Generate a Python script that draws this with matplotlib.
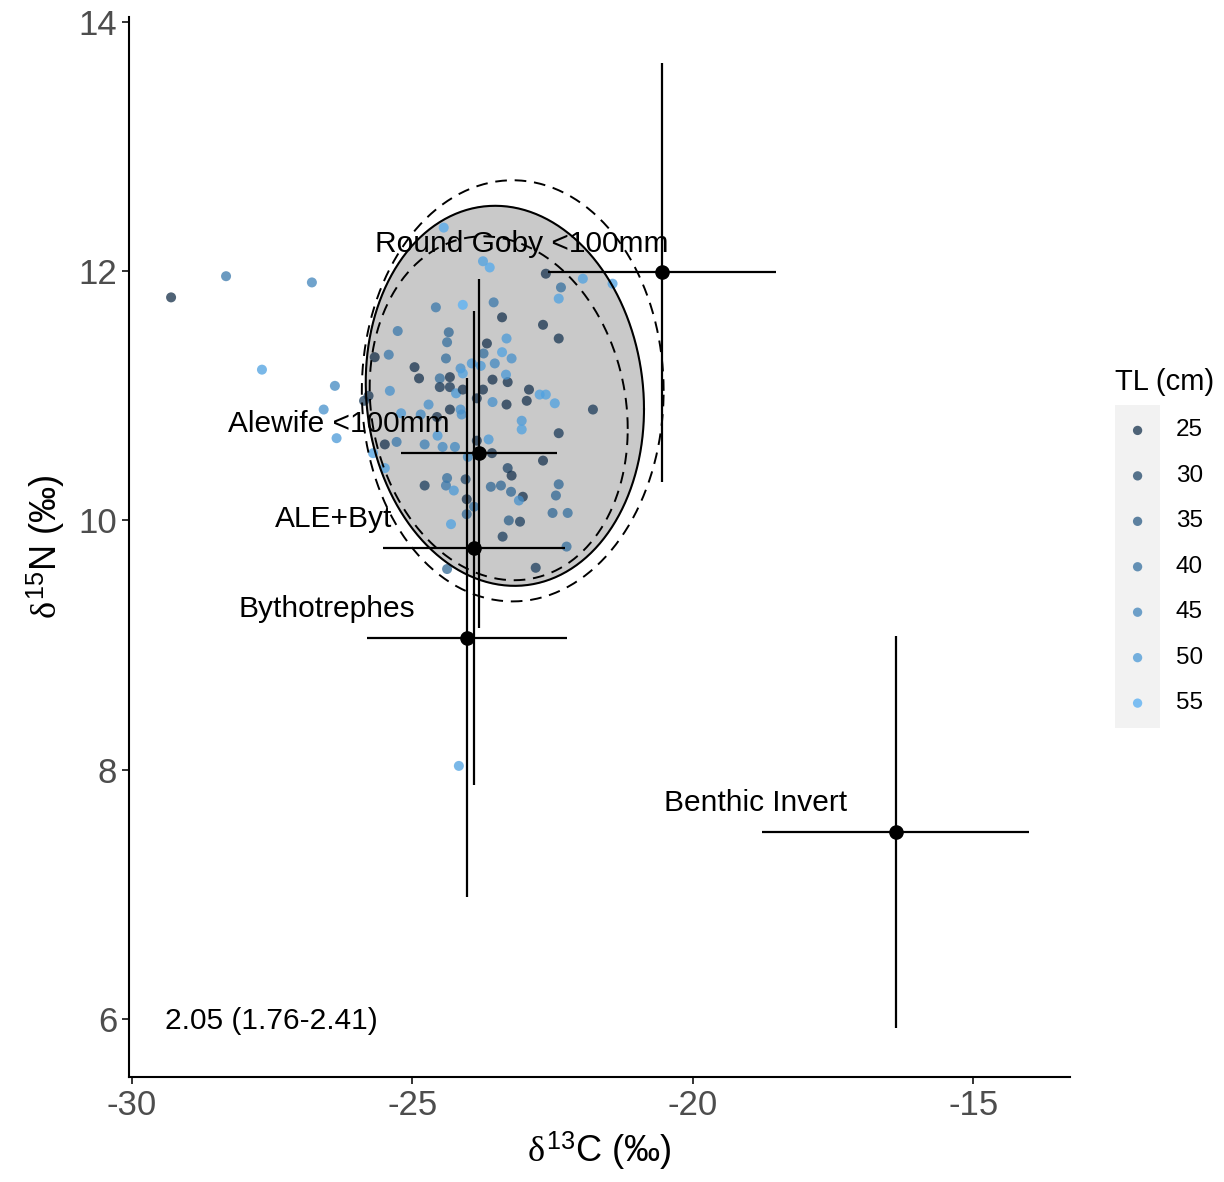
import numpy as np
import matplotlib
matplotlib.use("Agg")
from matplotlib import pyplot as plt
from matplotlib.colors import LinearSegmentedColormap, Normalize

plt.rcParams['font.family'] = ['Liberation Sans', 'DejaVu Sans']
plt.rcParams['mathtext.fontset'] = 'custom'
plt.rcParams['mathtext.rm'] = 'Liberation Sans'
plt.rcParams['mathtext.it'] = 'Liberation Serif'
plt.rcParams['axes.unicode_minus'] = False

# Round goby individuals: d13C, d15N, total length (cm)
d13c = [-29.30, -28.32, -26.79, -27.68, -26.38, -26.58, -26.35, -25.78, -25.86, -25.67,
        -25.42, -25.26, -24.58, -24.96, -24.88, -25.40, -24.71, -25.49, -25.28, -24.78,
        -24.55, -24.46, -25.70, -25.49, -24.44, -23.74, -23.62, -22.62, -22.35, -22.39,
        -21.96, -21.43, -24.10, -23.55, -23.40, -22.67, -22.39, -24.35, -24.38, -23.67,
        -23.32, -23.40, -23.53, -23.23, -23.73, -24.40, -24.51, -24.33, -24.14, -24.10,
        -23.94, -23.78, -23.57, -23.30, -23.33, -23.74, -23.85, -24.51, -24.33, -24.22,
        -24.10, -22.92, -22.96, -22.73, -22.62, -22.46, -23.32, -23.57, -24.33, -24.14,
        -24.12, -25.20, -24.85, -24.56, -21.78, -23.05, -23.05, -22.39, -23.64, -23.85,
        -24.24, -24.01, -23.58, -22.67, -23.30, -23.23, -24.78, -24.38, -24.40, -24.26,
        -24.05, -24.03, -23.90, -24.03, -23.60, -23.42, -23.24, -23.03, -23.10, -22.39,
        -22.44, -22.50, -22.23, -23.28, -23.08, -23.39, -24.31, -22.25, -22.80, -24.38,
        -24.17]
d15n = [11.79, 11.96, 11.91, 11.21, 11.08, 10.89, 10.66, 11.00, 10.96, 11.31,
        11.33, 11.52, 11.71, 11.23, 11.14, 11.04, 10.93, 10.61, 10.63, 10.61,
        10.68, 10.59, 10.54, 10.42, 12.35, 12.08, 12.03, 11.98, 11.87, 11.78,
        11.94, 11.90, 11.73, 11.75, 11.63, 11.57, 11.46, 11.51, 11.43, 11.42,
        11.46, 11.35, 11.26, 11.30, 11.34, 11.30, 11.14, 11.15, 11.22, 11.18,
        11.26, 11.24, 11.13, 11.11, 11.17, 11.05, 10.98, 11.07, 11.07, 11.02,
        11.05, 11.05, 10.96, 11.01, 11.01, 10.94, 10.93, 10.95, 10.89, 10.89,
        10.85, 10.86, 10.85, 10.83, 10.89, 10.80, 10.73, 10.70, 10.65, 10.64,
        10.59, 10.51, 10.54, 10.48, 10.42, 10.36, 10.28, 10.34, 10.28, 10.24,
        10.33, 10.17, 10.11, 10.05, 10.27, 10.28, 10.23, 10.19, 10.16, 10.29,
        10.20, 10.06, 10.06, 10.00, 9.99, 9.87, 9.97, 9.79, 9.62, 9.61,
        8.03]
tl = [24, 42, 45, 52, 46, 48, 50, 26, 28, 24,
      42, 42, 42, 25, 25, 48, 48, 25, 42, 44,
      50, 46, 52, 52, 54, 52, 54, 25, 40, 52,
      52, 52, 56, 42, 25, 25, 26, 38, 40, 25,
      50, 52, 46, 48, 40, 40, 40, 25, 48, 52,
      50, 50, 25, 25, 50, 25, 25, 27, 27, 50,
      25, 25, 25, 52, 52, 52, 25, 48, 25, 48,
      48, 50, 46, 25, 27, 50, 52, 27, 50, 25,
      46, 46, 25, 25, 30, 25, 28, 40, 42, 50,
      30, 25, 40, 38, 38, 38, 38, 25, 48, 38,
      38, 38, 40, 36, 28, 28, 52, 40, 28, 38,
      52]

# prey / source means and SD
sources = ["Round Goby <100mm", "Alewife <100mm", "ALE+Byt", "Bythotrephes", "Benthic Invert"]
src_c = [-20.55, -23.81, -23.90, -24.03, -16.38]
src_n = [11.99, 10.54, 9.78, 9.06, 7.50]
src_sd_c = [2.04, 1.39, 1.62, 1.78, 2.38]
src_sd_n = [1.68, 1.40, 1.90, 2.08, 1.57]

# ellipses: centre x, centre y, sd x, sd y, correlation
ell_solid = [-23.35, 11.00, 2.48, 1.525, -0.07]
ell_inner = [-23.46, 10.90, 2.30, 1.38, -0.12]
ell_outer = [-23.21, 11.04, 2.69, 1.69, 0.0]

sea_text = "2.05 (1.76-2.41)"
tl_breaks = [25, 30, 35, 40, 45, 50, 55]

cmap = LinearSegmentedColormap.from_list("gg", ["#132B43", "#56B1F7"])
norm = Normalize(vmin=23, vmax=56)


def ellipse(p):
    t = np.linspace(0, 2 * np.pi, 300)
    cx, cy, sx, sy, r = p
    x = cx + sx * np.cos(t)
    y = cy + sy * (r * np.cos(t) + np.sqrt(1 - r ** 2) * np.sin(t))
    return x, y


fig = plt.figure(figsize=(12.24, 11.82), dpi=100)
ax = fig.add_axes([0.1054, 0.0888, 0.7686, 0.8968])

ex, ey = ellipse(ell_solid)
ax.fill(ex, ey, color="#C9C9C9", zorder=1)
ax.plot(ex, ey, color="black", lw=1.5, zorder=4)
for p in [ell_inner, ell_outer]:
    ex, ey = ellipse(p)
    ax.plot(ex, ey, color="black", lw=1.4, ls=(0, (6, 4)), zorder=4)

ax.scatter(d13c, d15n, c=tl, cmap=cmap, norm=norm, s=52, alpha=0.75,
           linewidths=0, zorder=3)

ax.errorbar(src_c, src_n, xerr=src_sd_c, yerr=src_sd_n, fmt="o", color="black",
            ms=9.5, elinewidth=1.6, capsize=0, zorder=5)
for name, cx, cy in zip(sources, src_c, src_n):
    ax.text(cx - 2.5, cy + 0.23, name, ha="center", va="center", fontsize=21.5, zorder=6)

ax.text(-27.52, 5.98, sea_text, ha="center", va="center", fontsize=21.5)

ax.set_xlim(-30.05, -13.28)
ax.set_ylim(5.533, 14.04)
ax.set_xticks([-30, -25, -20, -15])
ax.set_yticks([6, 8, 10, 12, 14])
for s in ["top", "right"]:
    ax.spines[s].set_visible(False)
for s in ["left", "bottom"]:
    ax.spines[s].set_linewidth(1.5)
ax.tick_params(labelsize=25, labelcolor="#4D4D4D", color="#333333", length=5, width=1.4)
ax.set_xlabel(r"$\delta^{13}$C (‰)", fontsize=26, labelpad=6)
ax.set_ylabel(r"$\delta^{15}$N (‰)", fontsize=26, labelpad=8)

# legend for total length
lax = fig.add_axes([0.911, 0.384, 0.0368, 0.273])
lax.set_facecolor("#F2F2F2")
for s in lax.spines.values():
    s.set_visible(False)
lax.set_xticks([])
lax.set_yticks([])
ly = np.arange(len(tl_breaks))[::-1]
lax.scatter([0.5] * len(tl_breaks), ly, c=tl_breaks, cmap=cmap, norm=norm, s=45,
            alpha=0.75, linewidths=0)
lax.set_xlim(0, 1)
lax.set_ylim(-0.55, len(tl_breaks) - 0.45)
for v, yy in zip(tl_breaks, ly):
    lax.text(1.35, yy, str(v), ha="left", va="center", fontsize=17.5, clip_on=False)
lax.text(0.0, len(tl_breaks) - 0.25, "TL (cm)", ha="left", va="bottom", fontsize=21,
         clip_on=False)

fig.savefig("out.png", dpi=100)
